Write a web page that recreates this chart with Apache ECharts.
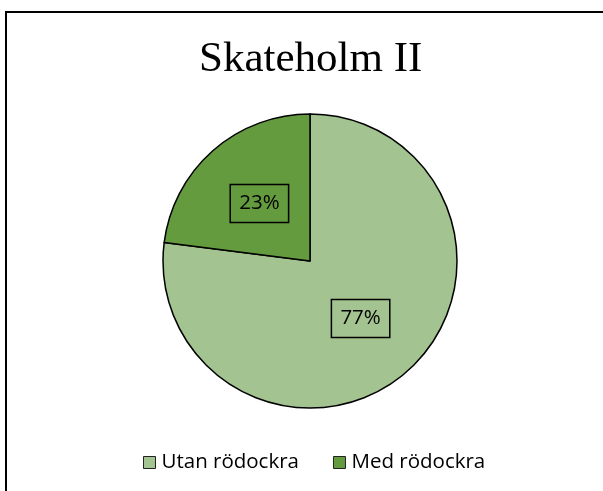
<!DOCTYPE html>
<html>
<head>
<meta charset="utf-8">
<script src="https://cdn.jsdelivr.net/npm/echarts@6/dist/echarts.min.js"></script>
<style>
  html, body { margin: 0; padding: 0; background: #fff; }
  #pie_chart { width: 603px; height: 491px; }
</style>
</head>
<body>
<div id="pie_chart"></div>
<script>
var chartTitle = 'Skateholm II'
var categories = ['Utan rödockra', 'Med rödockra']
var values = [77, 23]
var colors = ['#A3C491', '#639B3E']

function build_data() {
    var series_data = []
    for (var i = 0; i < categories.length; ++i) {
        series_data.push({
            value: values[i],
            name: categories[i],
            itemStyle: { color: colors[i] }
        })
    }
    return series_data
}

var option = {
    animation: false,
    backgroundColor: '#fff',
    title: {
        text: chartTitle,
        left: 194,
        top: 33,
        textStyle: {
            fontFamily: 'Liberation Serif',
            fontSize: 43,
            fontWeight: 'normal',
            color: '#000'
        }
    },
    legend: {
        bottom: 13,
        left: 138,
        itemWidth: 12,
        itemHeight: 12,
        itemGap: 34,
        icon: 'rect',
        itemStyle: { borderColor: '#222', borderWidth: 1 },
        textStyle: { fontFamily: 'Open Sans', fontSize: 20.5, color: '#000', padding: [0, 0, 0, 1] },
        data: categories
    },
    graphic: [
        {
            type: 'rect',
            shape: { x: 6, y: 12, width: 700, height: 600 },
            style: { fill: 'none', stroke: '#000', lineWidth: 2 },
            silent: true
        }
    ],
    series: [
        {
            name: chartTitle,
            type: 'pie',
            center: [310, 261],
            radius: [0, 147],
            startAngle: 90,
            clockwise: true,
            itemStyle: { borderColor: '#000', borderWidth: 1.5 },
            label: {
                show: true,
                position: 'inside',
                formatter: '{d}%',
                fontFamily: 'Open Sans',
                fontSize: 20.5,
                color: '#000',
                borderColor: '#000',
                borderWidth: 1.5,
                padding: [8, 9],
                lineHeight: 22
            },
            labelLine: { show: false },
            emphasis: { disabled: true },
            data: build_data()
        }
    ]
}

var pieChart = echarts.init(document.getElementById('pie_chart'))
pieChart.setOption(option)
</script>
</body>
</html>
